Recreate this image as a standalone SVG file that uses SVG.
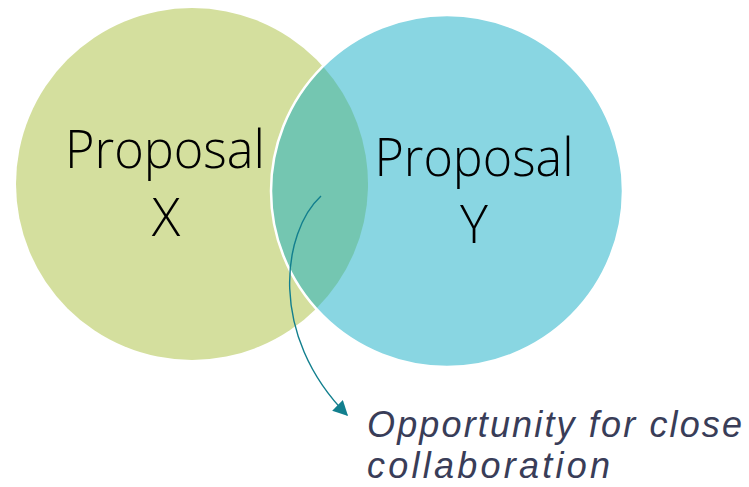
<svg xmlns="http://www.w3.org/2000/svg" width="749" height="487" viewBox="0 0 749 487">
  <style>
    .big { font-family: "Open Sans", "Liberation Sans", sans-serif; font-weight: 300; font-size: 53px; fill: #000; text-anchor: middle; }
    .note { font-family: "Liberation Sans", "DejaVu Sans", sans-serif; font-style: italic; font-size: 36px; fill: #393D58; }
    .link { fill: none; stroke: #127F8E; stroke-width: 1.4; }
  </style>
  <defs>
    <marker id="tri" viewBox="0 0 10 10" refX="9" refY="5" markerWidth="15" markerHeight="15" markerUnits="userSpaceOnUse" orient="auto">
      <path d="M0,0 L10,5 L0,10 Z" fill="#127F8E"/>
    </marker>
  </defs>
  <rect width="749" height="487" fill="#fff"/>

  <g id="proposal-x">
    <circle cx="192" cy="184" r="176" fill="#D4DF9E"/>
  </g>
  <g id="proposal-y">
    <circle cx="447" cy="191" r="176" fill="#89D6E2"/>
  </g>
  <g id="overlap">
    <path d="M322.8,66.25 A176,176 0 0 1 316.2,308.75 A176,176 0 0 1 322.8,66.25 Z" fill="#74C6B1"/>
    <circle cx="447" cy="191" r="176" fill="none" stroke="#fff" stroke-width="2.5"/>
  </g>

  <g id="label-x">
    <text class="big" x="165" y="168" textLength="200" lengthAdjust="spacingAndGlyphs">Proposal</text>
    <text class="big" x="166" y="236">X</text>
  </g>
  <g id="label-y">
    <text class="big" x="474" y="176" textLength="199" lengthAdjust="spacingAndGlyphs">Proposal</text>
    <text class="big" x="474" y="243">Y</text>
  </g>

  <g id="connectors">
    <path class="link" d="M321,196 C282,232 268,335 347,415" marker-end="url(#tri)"/>
  </g>

  <g id="note">
    <text class="note" x="367" y="437" textLength="375" lengthAdjust="spacing">Opportunity for close</text>
    <text class="note" x="367" y="478" textLength="243" lengthAdjust="spacing">collaboration</text>
  </g>
</svg>
